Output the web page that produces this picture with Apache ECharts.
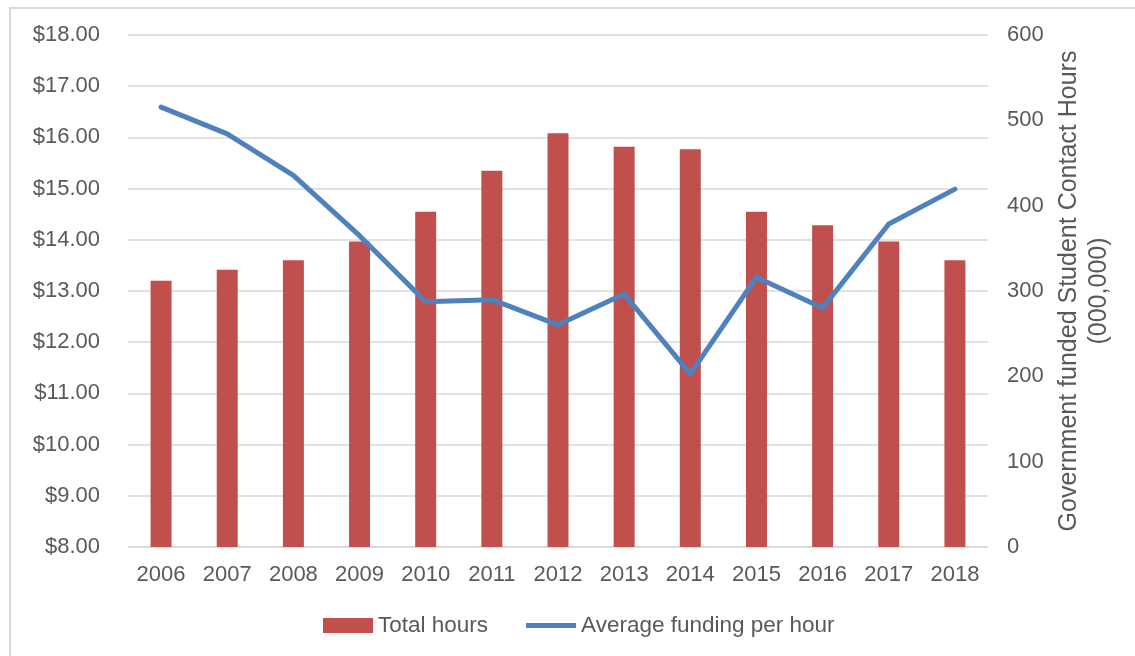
<!DOCTYPE html>
<html>
<head>
<meta charset="utf-8">
<script src="https://cdn.jsdelivr.net/npm/echarts@6/dist/echarts.min.js"></script>
<style>
  html, body { margin: 0; padding: 0; background: #fff; }
  #chart { width: 1135px; height: 656px; }
</style>
</head>
<body>
<div id="chart"></div>
<script>
const years = ['2006', '2007', '2008', '2009', '2010', '2011', '2012', '2013', '2014', '2015', '2016', '2017', '2018']
// Government funded student contact hours (000,000)
const totalHours = [312, 325, 336, 358, 393, 441, 485, 469, 466, 393, 377, 358, 336]
// Average funding per hour ($)
const avgFunding = [16.59, 16.07, 15.26, 14.08, 12.79, 12.83, 12.34, 12.94, 11.38, 13.27, 12.67, 14.31, 14.99]

const FONT = '"Liberation Sans", Arial, sans-serif'
const TEXT = '#595959'
const GRID = '#D9D9D9'

// thick line for the legend, padded so it keeps its height inside the icon box
const lineIcon = 'path://M0,0 L0,0 M0,5 L50,5 L50,10 L0,10 Z M0,15 L0,15'

const chart = echarts.init(document.getElementById('chart'))

chart.setOption({
  animation: false,
  textStyle: { fontFamily: FONT },
  graphic: [
    {
      type: 'rect',
      shape: { x: 10, y: 8, width: 1200, height: 700 },
      style: { fill: 'none', stroke: GRID, lineWidth: 2 },
      silent: true,
    },
  ],
  grid: { top: 35, left: 128, right: 147, bottom: 109 },
  legend: {
    left: 318,
    top: 609,
    itemWidth: 50,
    itemHeight: 15,
    itemGap: 38,
    textStyle: { color: TEXT, fontSize: 22.5, fontFamily: FONT },
    data: [
      { name: 'Total hours', icon: 'rect' },
      { name: 'Average funding per hour', icon: lineIcon },
    ],
  },
  xAxis: {
    type: 'category',
    data: years,
    axisLine: { lineStyle: { color: GRID, width: 1.5 } },
    axisTick: { show: false },
    axisLabel: { color: TEXT, fontSize: 22, margin: 17, fontFamily: FONT },
  },
  yAxis: [
    {
      type: 'value',
      min: 8,
      max: 18,
      interval: 1,
      axisLine: { show: false },
      axisTick: { show: false },
      splitLine: { lineStyle: { color: GRID, width: 1.5 } },
      axisLabel: {
        color: TEXT,
        fontSize: 22,
        margin: 28,
        fontFamily: FONT,
        formatter: (v) => '$' + v.toFixed(2),
      },
    },
    {
      type: 'value',
      min: 0,
      max: 600,
      interval: 100,
      position: 'right',
      axisLine: { show: false },
      axisTick: { show: false },
      splitLine: { show: false },
      axisLabel: { color: TEXT, fontSize: 22, margin: 19, fontFamily: FONT },
      name: 'Government funded Student Contact Hours\n(000,000)',
      nameLocation: 'middle',
      nameRotate: 90,
      nameGap: 65,
      nameTextStyle: { color: TEXT, fontSize: 25, lineHeight: 30, fontFamily: FONT, align: 'center' },
    },
  ],
  series: [
    {
      name: 'Total hours',
      type: 'bar',
      yAxisIndex: 1,
      data: totalHours,
      barWidth: 21,
      itemStyle: { color: '#C0504D' },
    },
    {
      name: 'Average funding per hour',
      type: 'line',
      yAxisIndex: 0,
      data: avgFunding,
      symbol: 'none',
      lineStyle: { color: '#4F81BD', width: 5, cap: 'round', join: 'round' },
      itemStyle: { color: '#4F81BD' },
    },
  ],
})
</script>
</body>
</html>
